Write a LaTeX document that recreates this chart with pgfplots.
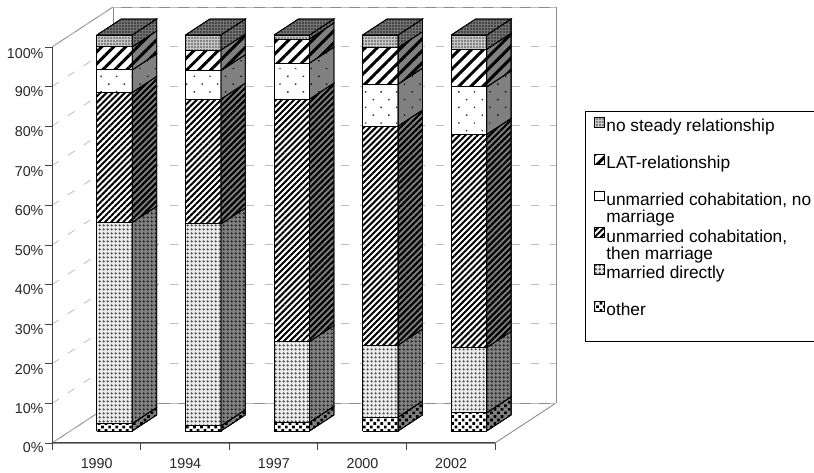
\documentclass[border=0pt]{standalone}
\usepackage{pgfplots}
\pgfplotsset{compat=1.18}
\usepackage{fontspec}
\setmainfont{Liberation Sans}
\usetikzlibrary{patterns,patterns.meta}
\definecolor{wall}{HTML}{8C8C8C}
\definecolor{griddash}{HTML}{BDBDBD}
\definecolor{axisdark}{HTML}{444444}
% pattern styles
\tikzset{
 nosF/.style={preaction={fill=black!22},pattern={Dots[distance=3pt,radius=0.8pt]},pattern color=black!75},
 nosS/.style={preaction={fill=black!55},pattern={Dots[distance=3pt,radius=0.8pt]},pattern color=black!90},
 latF/.style={preaction={fill=white},pattern={Lines[angle=45,distance=8.5pt,line width=3pt]},pattern color=black},
 latS/.style={preaction={fill=black!50},pattern={Lines[angle=45,distance=8.5pt,line width=3pt]},pattern color=black},
 nomF/.style={preaction={fill=white},pattern={Dots[angle=45,distance=11pt,radius=1pt]},pattern color=black!80},
 nomS/.style={preaction={fill=black!50},pattern={Dots[angle=45,distance=11pt,radius=1pt]},pattern color=black!90},
 cohF/.style={preaction={fill=white},pattern={Lines[angle=45,distance=4.3pt,line width=2pt]},pattern color=black},
 cohS/.style={preaction={fill=black!50},pattern={Lines[angle=45,distance=4.3pt,line width=2.2pt]},pattern color=black},
 marF/.style={preaction={fill=black!8},pattern={Dots[distance=4pt,radius=1.5pt]},pattern color=black!72},
 marS/.style={preaction={fill=black!50},pattern={Dots[distance=4pt,radius=1.5pt]},pattern color=black!85},
 othF/.style={preaction={fill=white},pattern={Dots[angle=45,distance=5pt,radius=1.9pt]},pattern color=black},
 othS/.style={preaction={fill=black!50},pattern={Dots[angle=45,distance=5pt,radius=1.9pt]},pattern color=black},
}
% one stacked segment: x of the bar's left edge, lower and upper value, style stem
\newcommand{\seg}[4]{%
 \addplot3[forget plot,no marks,draw=black,line width=0.8pt,#4F] coordinates {(#1,0.3,#2)(#1+0.4,0.3,#2)(#1+0.4,0.3,#3)(#1,0.3,#3)(#1,0.3,#2)};
 \addplot3[forget plot,no marks,draw=black,line width=0.8pt,#4S] coordinates {(#1+0.4,0.3,#2)(#1+0.4,0.7,#2)(#1+0.4,0.7,#3)(#1+0.4,0.3,#3)(#1+0.4,0.3,#2)};
}
\newcommand{\toptile}[1]{%
 \addplot3[forget plot,no marks,draw=black,line width=0.8pt,nosS] coordinates {(#1,0.3,100)(#1+0.4,0.3,100)(#1+0.4,0.7,100)(#1,0.7,100)(#1,0.3,100)};
}
\newcommand{\stackbar}[7]{% x, then the six cumulative upper bounds from bottom
 \seg{#1}{0}{#2}{oth}\seg{#1}{#2}{#3}{mar}\seg{#1}{#3}{#4}{coh}\seg{#1}{#4}{#5}{nom}\seg{#1}{#5}{#6}{lat}\seg{#1}{#6}{#7}{nos}\toptile{#1}%
}
\newcommand{\lgimg}[1]{\addlegendimage{legend image code/.code={\draw[black,line width=0.7pt,#1] (0pt,1.4pt) rectangle (9.5pt,11.2pt);}}}
\newcommand{\lgtxt}[1]{\addlegendentry{\raisebox{4.5pt}{\parbox[t]{225pt}{\lineskip=0pt\baselineskip=17pt\rule{0pt}{9pt}#1}}}}
\begin{document}
\begin{tikzpicture}[x=1pt,y=1pt]
\useasboundingbox (0,0) rectangle (814,473);
\begin{axis}[
  at={(52pt,30pt)},anchor=origin,
  x={(88.6pt,0pt)},y={(61pt,40pt)},z={(0pt,3.96pt)},
  xmin=0,xmax=5,ymin=0,ymax=1,zmin=0,zmax=100,
  clip=false,
  3d box=background,
  axis line style={wall,line width=0.9pt},
  xtick={0,1,2,3,4,5},xticklabels={1990,1994,1997,2000,2002},
  x tick label as interval,
  ytick=\empty,
  ztick={0,10,...,100},
  zticklabel={\pgfmathprintnumber{\tick}\%},
  zmajorgrids,
  major grid style={griddash,line width=0.8pt,dash pattern=on 8pt off 11pt},
  tick style={draw=none},
  ticklabel style={font=\fontsize{14.3}{15}\selectfont,text=black!85},
  xticklabel style={yshift=-12pt,xshift=5pt},
  zticklabel style={xshift=-5pt},
  /pgf/number format/assume math mode=true,
  legend style={at={(533pt,332.3pt)},anchor=north west,draw=none,fill=none,
     /tikz/every even column/.style={column sep=4pt},
     cells={anchor=base west},font=\fontsize{17.3}{17}\selectfont,
     inner xsep=9pt,inner ysep=6pt,row sep=14pt},
  legend cell align=left,
]
\stackbar{0.3}{1.9}{52.7}{85.5}{91.2}{97.0}{100}
\stackbar{1.3}{1.3}{52.3}{83.8}{91.0}{96.2}{100}
\stackbar{2.3}{2.2}{22.6}{83.8}{92.9}{99.0}{100}
\stackbar{3.3}{3.5}{21.7}{77.0}{87.6}{96.8}{100}
\stackbar{4.3}{4.6}{21.1}{74.9}{86.9}{96.4}{100}
\draw[axisdark,line width=1pt] (axis cs:0,0,100) -- (axis cs:0,0,0) -- (axis cs:5,0,0);
\pgfplotsinvokeforeach{0,1,2,3,4,5}{\draw[axisdark,line width=0.9pt] (axis cs:#1,0,0) -- ++(0pt,-7pt);}
\pgfplotsinvokeforeach{0,10,...,100}{\draw[axisdark,line width=0.9pt] (axis cs:0,0,#1) -- ++(-7pt,0pt);}
\lgimg{nosF}\lgtxt{no steady relationship}
\lgimg{latF}\lgtxt{LAT-relationship}
\lgimg{nomF}\lgtxt{unmarried cohabitation, no\\marriage}
\lgimg{cohF}\lgtxt{unmarried cohabitation,\\then marriage}
\lgimg{marF}\lgtxt{married directly}
\lgimg{othF}\lgtxt{other}
\end{axis}
\draw[black,line width=0.8pt] (585,361.3) rectangle (830,131.3);
\end{tikzpicture}
\end{document}
